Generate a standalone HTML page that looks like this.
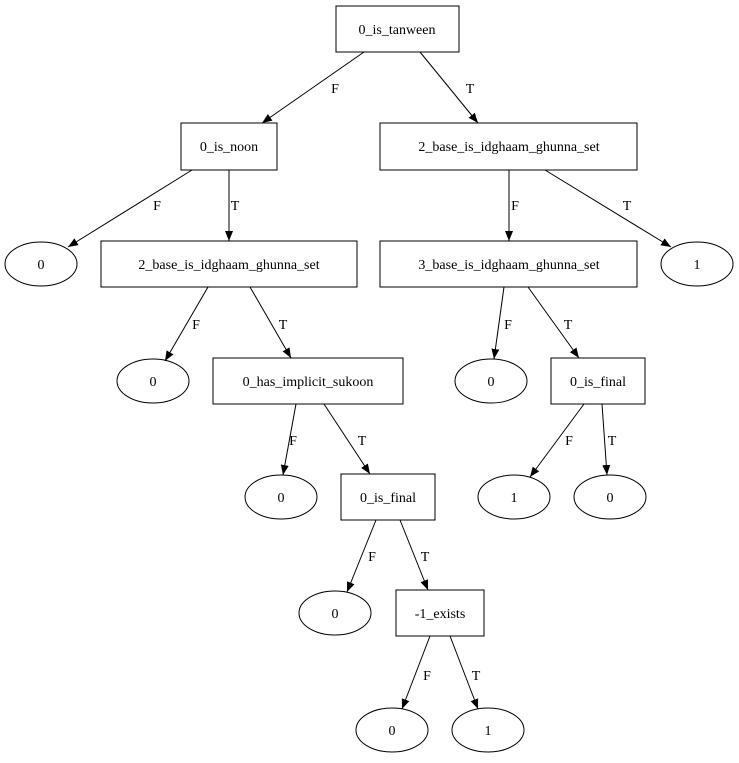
<!DOCTYPE html>
<html><head><meta charset="utf-8"><style>
html,body{margin:0;padding:0;background:#fff;}
svg{display:block;}
text{font-family:"Liberation Serif",serif;font-size:14px;fill:#000;}
</style></head><body>
<svg width="739" height="763" viewBox="0 0 739 763" xmlns="http://www.w3.org/2000/svg">
<defs><marker id="a" markerWidth="10" markerHeight="8" refX="10" refY="4" orient="auto" markerUnits="userSpaceOnUse"><path d="M0,0 L10,4 L0,8 Z" fill="#000"/></marker></defs>
<g fill="none" stroke="#000" stroke-width="1">
<rect x="336" y="6" width="123" height="46"/>
<rect x="181" y="123" width="96" height="47"/>
<rect x="380" y="123" width="257" height="47"/>
<rect x="101" y="241" width="256" height="46"/>
<rect x="380" y="241" width="257" height="46"/>
<rect x="213" y="358" width="190" height="46"/>
<rect x="551" y="358" width="94" height="46"/>
<rect x="341" y="474" width="94" height="46"/>
<rect x="396" y="590" width="88" height="46"/>
<ellipse cx="41" cy="264" rx="36" ry="22"/>
<ellipse cx="697" cy="264" rx="36" ry="22"/>
<ellipse cx="153" cy="381" rx="36" ry="22"/>
<ellipse cx="491" cy="381" rx="36" ry="22"/>
<ellipse cx="281" cy="497" rx="36" ry="22"/>
<ellipse cx="514" cy="497" rx="36" ry="22"/>
<ellipse cx="610" cy="497" rx="36" ry="22"/>
<ellipse cx="335" cy="613" rx="36" ry="22"/>
<ellipse cx="392" cy="730" rx="36" ry="22"/>
<ellipse cx="488" cy="730" rx="36" ry="22"/>
<g marker-end="url(#a)">
<line x1="364" y1="52" x2="262" y2="123"/>
<line x1="420" y1="52" x2="478" y2="123"/>
<line x1="192" y1="170" x2="68" y2="247"/>
<line x1="229" y1="170" x2="229" y2="241"/>
<line x1="208" y1="287" x2="165" y2="361"/>
<line x1="250" y1="287" x2="291" y2="358"/>
<line x1="296" y1="404" x2="283" y2="475"/>
<line x1="324" y1="404" x2="370" y2="474"/>
<line x1="376" y1="520" x2="347" y2="592"/>
<line x1="400" y1="520" x2="428" y2="590"/>
<line x1="430" y1="636" x2="402" y2="709"/>
<line x1="450" y1="636" x2="478" y2="709"/>
<line x1="509" y1="170" x2="509" y2="241"/>
<line x1="545" y1="170" x2="671" y2="247"/>
<line x1="504" y1="287" x2="494" y2="359"/>
<line x1="528" y1="287" x2="579" y2="358"/>
<line x1="584" y1="404" x2="530" y2="477"/>
<line x1="602" y1="404" x2="607" y2="475"/>
</g></g>
<g text-anchor="middle">
<text x="397" y="34">0_is_tanween</text>
<text x="229" y="151">0_is_noon</text>
<text x="509" y="151">2_base_is_idghaam_ghunna_set</text>
<text x="229" y="269">2_base_is_idghaam_ghunna_set</text>
<text x="509" y="269">3_base_is_idghaam_ghunna_set</text>
<text x="308" y="386">0_has_implicit_sukoon</text>
<text x="598" y="386">0_is_final</text>
<text x="388" y="502">0_is_final</text>
<text x="440" y="618">-1_exists</text>
<text x="41" y="269">0</text><text x="697" y="269">1</text>
<text x="153" y="386">0</text><text x="491" y="386">0</text>
<text x="281" y="502">0</text><text x="514" y="502">1</text><text x="610" y="502">0</text>
<text x="335" y="618">0</text><text x="392" y="735">0</text><text x="488" y="735">1</text>
<text x="335" y="93">F</text><text x="470" y="93">T</text>
<text x="157" y="210">F</text><text x="235" y="210">T</text>
<text x="196" y="329">F</text><text x="283" y="329">T</text>
<text x="293" y="445">F</text><text x="362" y="445">T</text>
<text x="372" y="561">F</text><text x="425" y="561">T</text>
<text x="427" y="680">F</text><text x="476" y="680">T</text>
<text x="515" y="210">F</text><text x="627" y="210">T</text>
<text x="508" y="329">F</text><text x="568" y="329">T</text>
<text x="569" y="445">F</text><text x="612" y="445">T</text>
</g>
</svg>
</body></html>
